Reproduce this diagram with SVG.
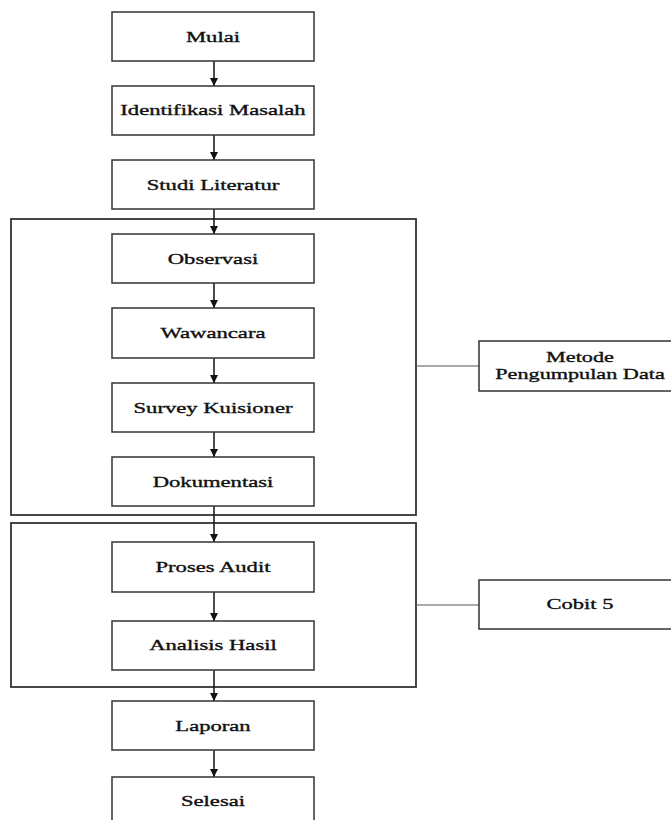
<svg xmlns="http://www.w3.org/2000/svg" width="671" height="820" viewBox="0 0 671 820">
<defs>
<marker id="ah" viewBox="0 0 10 10" refX="10" refY="5" markerUnits="userSpaceOnUse" markerWidth="8" markerHeight="9" orient="auto">
<path d="M0,0 L10,5 L0,10 z" fill="#111"/>
</marker>
<style>
.box{fill:#fff;stroke:#333;stroke-width:1.5}
.grp{fill:none;stroke:#333;stroke-width:1.8}
.t{font-family:"Liberation Serif","Times New Roman",serif;font-size:15px;fill:#111;stroke:#111;stroke-width:0.35;text-anchor:middle}
.arr{stroke:#111;stroke-width:1.5;fill:none;marker-end:url(#ah)}
.lnk{stroke:#555;stroke-width:1.2;fill:none}
</style>
</defs>
<rect width="671" height="820" fill="#fff"/>
<g id="group-metode"><rect class="grp" x="11" y="219" width="405" height="296"/></g>
<g id="group-cobit"><rect class="grp" x="11" y="523" width="405" height="164"/></g>
<g id="connectors">
<line class="arr" x1="214" y1="61" x2="214" y2="86"/>
<line class="arr" x1="214" y1="135" x2="214" y2="160"/>
<line class="arr" x1="214" y1="209" x2="214" y2="234"/>
<line class="arr" x1="214" y1="283" x2="214" y2="308"/>
<line class="arr" x1="214" y1="358" x2="214" y2="383"/>
<line class="arr" x1="214" y1="432" x2="214" y2="457"/>
<line class="arr" x1="214" y1="506" x2="214" y2="542"/>
<line class="arr" x1="214" y1="592" x2="214" y2="621"/>
<line class="arr" x1="214" y1="670" x2="214" y2="701"/>
<line class="arr" x1="214" y1="750" x2="214" y2="777"/>
<line class="lnk" x1="416" y1="366" x2="479" y2="366"/>
<line class="lnk" x1="416" y1="605" x2="479" y2="605"/>
</g>
<g id="mulai"><rect class="box" x="112" y="12" width="202" height="49"/><text class="t" transform="translate(213,42) scale(1.51,1)">Mulai</text></g>
<g id="identifikasi"><rect class="box" x="112" y="86" width="202" height="49"/><text class="t" transform="translate(213,115) scale(1.51,1)">Identifikasi Masalah</text></g>
<g id="studi"><rect class="box" x="112" y="160" width="202" height="49"/><text class="t" transform="translate(213,190) scale(1.51,1)">Studi Literatur</text></g>
<g id="observasi"><rect class="box" x="112" y="234" width="202" height="49"/><text class="t" transform="translate(213,264) scale(1.51,1)">Observasi</text></g>
<g id="wawancara"><rect class="box" x="112" y="308" width="202" height="50"/><text class="t" transform="translate(213,338) scale(1.51,1)">Wawancara</text></g>
<g id="survey"><rect class="box" x="112" y="383" width="202" height="49"/><text class="t" transform="translate(213,413) scale(1.51,1)">Survey Kuisioner</text></g>
<g id="dokumentasi"><rect class="box" x="112" y="457" width="202" height="49"/><text class="t" transform="translate(213,487) scale(1.51,1)">Dokumentasi</text></g>
<g id="proses"><rect class="box" x="112" y="542" width="202" height="50"/><text class="t" transform="translate(213,572) scale(1.51,1)">Proses Audit</text></g>
<g id="analisis"><rect class="box" x="112" y="621" width="202" height="49"/><text class="t" transform="translate(213,650) scale(1.51,1)">Analisis Hasil</text></g>
<g id="laporan"><rect class="box" x="112" y="701" width="202" height="49"/><text class="t" transform="translate(213,731) scale(1.51,1)">Laporan</text></g>
<g id="selesai"><rect class="box" x="112" y="777" width="202" height="50"/><text class="t" transform="translate(213,806) scale(1.51,1)">Selesai</text></g>
<g id="metode"><rect class="box" x="479" y="341" width="202" height="50"/><text class="t" transform="translate(580,362) scale(1.48,1)">Metode</text><text class="t" transform="translate(580,379) scale(1.48,1)">Pengumpulan Data</text></g>
<g id="cobit"><rect class="box" x="479" y="580" width="202" height="49"/><text class="t" transform="translate(580,609) scale(1.5,1)">Cobit 5</text></g>
</svg>
